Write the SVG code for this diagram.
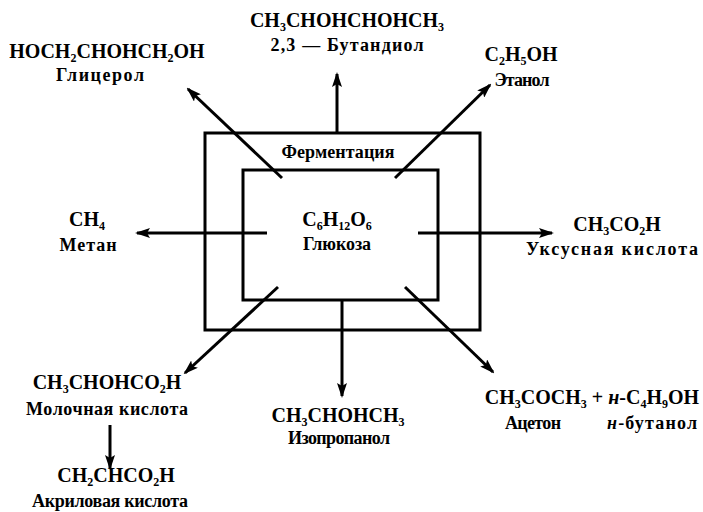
<svg xmlns="http://www.w3.org/2000/svg" width="703" height="512" viewBox="0 0 703 512">
<style>
text{font-family:"Liberation Serif","DejaVu Serif",serif;font-weight:bold;fill:#000;text-anchor:middle}
.f{font-size:20px}
.n{font-size:18px}
.s{font-size:12px}
.box{fill:none;stroke:#000;stroke-width:3}
.c line{stroke:#000;stroke-width:3;marker-end:url(#ah)}
</style>
<defs>
<marker id="ah" markerWidth="15" markerHeight="10" refX="13" refY="5" orient="auto" markerUnits="userSpaceOnUse">
<path d="M0,0 L15,5 L0,10 L3,5 Z" fill="#000"/>
</marker>
</defs>
<rect width="703" height="512" fill="#fff"/>
<g id="fermentation">
<rect class="box" x="205" y="133" width="275" height="197"/>
<text class="n" x="338" y="158" textLength="113" lengthAdjust="spacing">Ферментация</text>
</g>
<g id="glucose">
<rect class="box" x="243" y="170" width="195" height="130"/>
<text class="f" x="337" y="226">C<tspan class="s" dy="4">6</tspan><tspan dy="-4">H</tspan><tspan class="s" dy="4">12</tspan><tspan dy="-4">O</tspan><tspan class="s" dy="4">6</tspan></text>
<text class="n" x="337" y="250" textLength="68" lengthAdjust="spacing">Глюкоза</text>
</g>
<g class="c" id="connectors">
<line x1="337" y1="133" x2="337" y2="74"/>
<line x1="282" y1="178" x2="188" y2="89"/>
<line x1="395" y1="178" x2="490" y2="85"/>
<line x1="267" y1="233" x2="137" y2="233"/>
<line x1="418" y1="233" x2="552" y2="233"/>
<line x1="278" y1="287" x2="185" y2="373"/>
<line x1="342" y1="300" x2="342" y2="396"/>
<line x1="405" y1="287" x2="493" y2="372"/>
<line x1="110" y1="425" x2="110" y2="468"/>
</g>
<g id="butanediol">
<text class="f" x="347" y="27">CH<tspan class="s" dy="4">3</tspan><tspan dy="-4">CHOHCHOHCH</tspan><tspan class="s" dy="4">3</tspan></text>
<text class="n" x="347" y="51" textLength="153" lengthAdjust="spacing">2,3 — Бутандиол</text>
</g>
<g id="glycerol">
<text class="f" x="107" y="58">HOCH<tspan class="s" dy="4">2</tspan><tspan dy="-4">CHOHCH</tspan><tspan class="s" dy="4">2</tspan><tspan dy="-4">OH</tspan></text>
<text class="n" x="100" y="81" textLength="88" lengthAdjust="spacing">Глицерол</text>
</g>
<g id="ethanol">
<text class="f" x="521" y="61">C<tspan class="s" dy="4">2</tspan><tspan dy="-4">H</tspan><tspan class="s" dy="4">5</tspan><tspan dy="-4">OH</tspan></text>
<text class="n" x="522" y="86" textLength="55" lengthAdjust="spacing">Этанол</text>
</g>
<g id="methane">
<text class="f" x="87" y="226">CH<tspan class="s" dy="4">4</tspan></text>
<text class="n" x="88" y="251" textLength="57" lengthAdjust="spacing">Метан</text>
</g>
<g id="acetic">
<text class="f" x="617" y="231">CH<tspan class="s" dy="4">3</tspan><tspan dy="-4">CO</tspan><tspan class="s" dy="4">2</tspan><tspan dy="-4">H</tspan></text>
<text class="n" x="612" y="255" textLength="172" lengthAdjust="spacing">Уксусная кислота</text>
</g>
<g id="lactic">
<text class="f" x="107" y="389">CH<tspan class="s" dy="4">3</tspan><tspan dy="-4">CHOHCO</tspan><tspan class="s" dy="4">2</tspan><tspan dy="-4">H</tspan></text>
<text class="n" x="107" y="415" textLength="162" lengthAdjust="spacing">Молочная кислота</text>
</g>
<g id="acrylic">
<text class="f" x="116" y="482">CH<tspan class="s" dy="4">2</tspan><tspan dy="-4">CHCO</tspan><tspan class="s" dy="4">2</tspan><tspan dy="-4">H</tspan></text>
<text class="n" x="110" y="507" textLength="156" lengthAdjust="spacing">Акриловая кислота</text>
</g>
<g id="isopropanol">
<text class="f" x="338" y="422">CH<tspan class="s" dy="4">3</tspan><tspan dy="-4">CHOHCH</tspan><tspan class="s" dy="4">3</tspan></text>
<text class="n" x="339" y="444" textLength="102" lengthAdjust="spacing">Изопропанол</text>
</g>
<g id="acetone-butanol">
<text class="f" x="592" y="404">CH<tspan class="s" dy="4">3</tspan><tspan dy="-4">COCH</tspan><tspan class="s" dy="4">3</tspan><tspan dy="-4"> + </tspan><tspan font-style="italic">н</tspan><tspan>-C</tspan><tspan class="s" dy="4">4</tspan><tspan dy="-4">H</tspan><tspan class="s" dy="4">9</tspan><tspan dy="-4">OH</tspan></text>
<text class="n" x="533" y="429" textLength="56" lengthAdjust="spacing">Ацетон</text>
<text class="n" x="652" y="429" textLength="90" lengthAdjust="spacing"><tspan font-style="italic">н</tspan>-бутанол</text>
</g>
</svg>
